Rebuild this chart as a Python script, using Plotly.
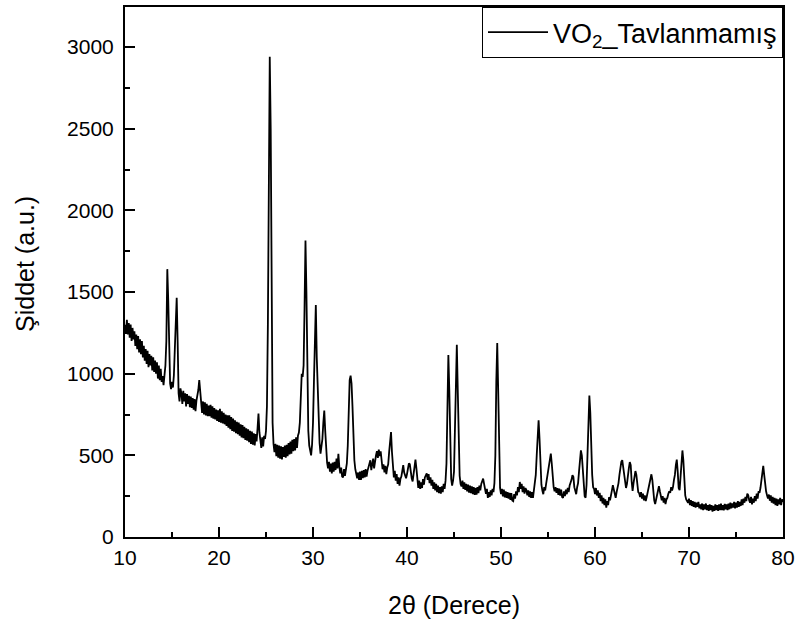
import plotly.graph_objects as go

# XRD pattern, 2theta from 10.0 to 80.0 in 0.1 degree steps
start_2theta = 10.0
step_2theta = 0.1
intensity = [
    1300, 1250, 1330, 1240, 1310, 1220, 1300, 1200, 1280, 1210,  # 10
    1260, 1170, 1240, 1150, 1230, 1130, 1210, 1120, 1200, 1100,  # 11
    1170, 1080, 1150, 1060, 1140, 1040, 1120, 1050, 1110, 1020,  # 12
    1100, 1010, 1080, 1000, 1070, 970, 1050, 960, 1030, 950,     # 13
    985, 930, 990, 1050, 1200, 1640, 1450, 1050, 940, 905,       # 14
    950, 915, 990, 1150, 1300, 1465, 1200, 880, 830, 910,        # 15
    880, 815, 895, 830, 880, 800, 875, 815, 865, 795,            # 16
    860, 790, 850, 780, 845, 770, 835, 860, 900, 960,            # 17
    880, 800, 760, 830, 750, 825, 745, 815, 740, 805,            # 18
    740, 810, 730, 800, 725, 790, 720, 780, 710, 775,            # 19
    705, 785, 700, 770, 695, 760, 690, 750, 680, 745,            # 20
    670, 745, 660, 735, 650, 725, 645, 715, 635, 705,            # 21
    630, 700, 620, 690, 610, 685, 605, 675, 595, 665,            # 22
    590, 660, 580, 650, 570, 645, 565, 635, 560, 630,            # 23
    585, 665, 756, 640, 565, 545, 610, 555, 620, 600,            # 24
    650, 800, 1300, 2200, 2940, 2500, 1200, 700, 570, 520,       # 25
    570, 495, 565, 485, 560, 480, 555, 475, 550, 490,            # 26
    560, 485, 565, 495, 575, 505, 585, 510, 595, 525,            # 27
    600, 530, 610, 545, 620, 640, 700, 850, 1000, 980,           # 28
    1050, 1400, 1815, 1500, 900, 650, 560, 520, 500, 565,        # 29
    700, 950, 1250, 1420, 1100, 880, 700, 575, 510, 565,         # 30
    600, 700, 774, 650, 520, 455, 420, 460, 400, 450,            # 31
    390, 455, 400, 460, 410, 480, 420, 510, 430, 390,            # 32
    425, 370, 365, 415, 375, 425, 450, 560, 800, 960,            # 33
    988, 940, 800, 600, 470, 415, 395, 360, 395, 350,            # 34
    400, 350, 405, 360, 410, 365, 415, 370, 405, 425,            # 35
    445, 470, 410, 445, 480, 420, 475, 500, 525, 485,            # 36
    535, 495, 525, 445, 415, 445, 395, 435, 385, 425,            # 37
    445, 520, 600, 642, 520, 395, 365, 405, 345, 385,            # 38
    325, 365, 315, 355, 370, 405, 440, 395, 380, 360,            # 39
    385, 410, 450, 445, 375, 360, 340, 400, 440, 474,            # 40
    420, 325, 300, 345, 295, 335, 300, 355, 320, 365,            # 41
    385, 390, 350, 385, 330, 365, 315, 350, 295, 335,            # 42
    285, 325, 275, 315, 268, 305, 265, 310, 275, 325,            # 43
    295, 345, 450, 800, 1114, 900, 500, 355, 315, 345,           # 44
    400, 650, 1050, 1177, 900, 550, 375, 325, 310, 345,          # 45
    295, 335, 288, 325, 280, 320, 272, 315, 268, 310,            # 46
    262, 305, 258, 300, 260, 305, 268, 315, 285, 325,            # 47
    345, 358, 325, 300, 265, 295, 240, 275, 245, 285,            # 48
    255, 295, 275, 330, 500, 950, 1187, 900, 450, 300,           # 49
    262, 295, 248, 290, 243, 280, 240, 275, 235, 270,            # 50
    228, 268, 224, 220, 262, 235, 280, 255, 305, 275,            # 51
    337, 295, 325, 275, 310, 265, 300, 287, 255, 285,            # 52
    245, 280, 240, 275, 240, 285, 300, 380, 500, 650,            # 53
    715, 600, 420, 320, 285, 262, 305, 285, 325, 360,            # 54
    400, 450, 490, 510, 450, 360, 305, 280, 305, 270,            # 55
    300, 258, 296, 254, 290, 245, 240, 280, 250, 290,            # 56
    262, 300, 275, 315, 330, 350, 378, 368, 305, 275,            # 57
    262, 305, 330, 400, 480, 530, 500, 400, 300, 250,            # 58
    240, 320, 500, 750, 866, 760, 520, 380, 305, 295,            # 59
    262, 300, 254, 286, 240, 270, 220, 255, 205, 240,            # 60
    195, 230, 180, 220, 195, 245, 225, 275, 285, 317,            # 61
    285, 255, 240, 275, 300, 330, 380, 430, 460, 470,            # 62
    420, 360, 325, 300, 325, 360, 420, 459, 440, 340,            # 63
    282, 330, 380, 404, 380, 320, 275, 268, 245, 275,            # 64
    235, 265, 225, 255, 220, 245, 270, 300, 340, 360,            # 65
    384, 350, 280, 225, 202, 235, 270, 300, 311, 280,            # 66
    245, 225, 250, 210, 240, 202, 230, 240, 265, 280,            # 67
    270, 305, 285, 307, 350, 380, 440, 474, 400, 300,            # 68
    287, 380, 480, 530, 470, 330, 255, 230, 222, 210,            # 69
    235, 195, 225, 190, 220, 185, 215, 180, 210, 185,            # 70
    215, 175, 200, 170, 205, 165, 200, 170, 205, 165,            # 71
    195, 160, 200, 165, 195, 155, 190, 160, 200, 165,            # 72
    195, 160, 200, 165, 205, 165, 195, 163, 203, 170,            # 73
    200, 165, 205, 170, 210, 175, 205, 180, 215, 175,            # 74
    210, 180, 220, 185, 215, 190, 230, 195, 235, 210,            # 75
    245, 220, 265, 256, 225, 210, 245, 200, 235, 210,            # 76
    250, 220, 265, 235, 280, 270, 300, 340, 390, 435,            # 77
    380, 320, 280, 255, 235, 260, 222, 255, 210, 245,            # 78
    205, 240, 195, 235, 190, 230, 200, 240, 195, 230,            # 79
    215,                                                         # 80
]
two_theta = [round(start_2theta + step_2theta * i, 1) for i in range(len(intensity))]

x_ticks = [10, 20, 30, 40, 50, 60, 70, 80]
y_ticks = [0, 500, 1000, 1500, 2000, 2500, 3000]
series_name = "VO<sub>2</sub>_Tavlanmamış"
x_title = "2θ (Derece)"
y_title = "Şiddet (a.u.)"

FONT = "Liberation Sans, Arial, sans-serif"

fig = go.Figure()
fig.add_trace(go.Scatter(
    x=two_theta, y=intensity, mode="lines",
    line=dict(color="black", width=1.8),
    name=series_name,
))

fig.update_layout(
    width=800, height=624,
    margin=dict(l=125, r=15, t=5, b=87),
    paper_bgcolor="white", plot_bgcolor="white",
    font=dict(family=FONT, color="black", size=21),
    showlegend=True,
    legend=dict(
        x=1, y=1, xanchor="right", yanchor="top",
        bordercolor="black", borderwidth=1, bgcolor="white",
        font=dict(family=FONT, size=27, color="black"),
        itemwidth=60,
    ),
)

fig.update_xaxes(
    range=[10, 80], tickvals=x_ticks,
    ticks="inside", ticklen=10, tickwidth=1.5, tickcolor="black",
    showline=True, linecolor="black", linewidth=2, mirror=True,
    showgrid=False, zeroline=False,
    tickfont=dict(family=FONT, size=21, color="black"),
    ticklabelstandoff=1,
    minor=dict(ticks="inside", ticklen=5, tickwidth=1.5, tickcolor="black", dtick=5, showgrid=False),
)
fig.update_yaxes(
    range=[0, 3245], tickvals=y_ticks,
    ticks="inside", ticklen=10, tickwidth=1.5, tickcolor="black",
    showline=True, linecolor="black", linewidth=2, mirror=True,
    showgrid=False, zeroline=False,
    tickfont=dict(family=FONT, size=21, color="black"),
    ticklabelstandoff=5,
    minor=dict(ticks="inside", ticklen=5, tickwidth=1.5, tickcolor="black", dtick=250, showgrid=False),
)

fig.add_annotation(
    text=x_title, xref="paper", yref="paper", x=0.5, y=0,
    xanchor="center", yanchor="middle", yshift=-68, showarrow=False,
    font=dict(family=FONT, size=25, color="black"),
)
fig.add_annotation(
    text=y_title, xref="paper", yref="paper", x=0, y=0.5,
    xanchor="center", yanchor="middle", xshift=-100, yshift=8, textangle=-90, showarrow=False,
    font=dict(family=FONT, size=25, color="black"),
)

fig.write_html("out.html")
